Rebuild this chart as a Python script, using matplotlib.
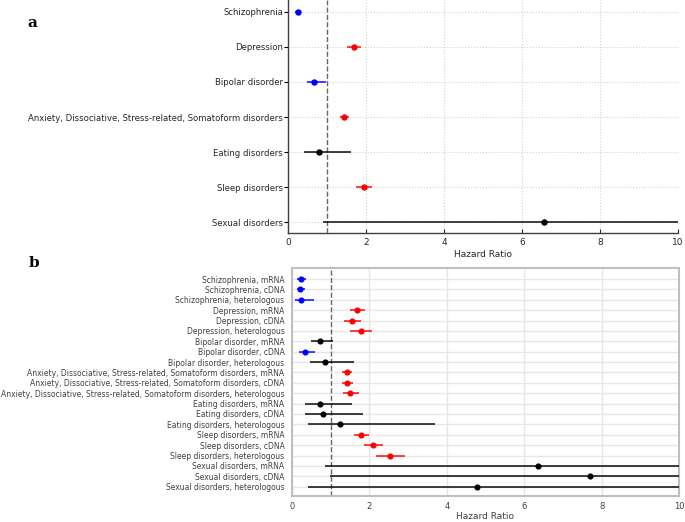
import matplotlib

matplotlib.use("Agg")
import matplotlib.pyplot as plt
import numpy as np

# Panel a: pooled hazard ratios
labels_a = [
  "Schizophrenia",
  "Depression",
  "Bipolar disorder",
  "Anxiety, Dissociative, Stress-related, Somatoform disorders",
  "Eating disorders",
  "Sleep disorders",
  "Sexual disorders",
]
hr_a = [0.25, 1.69, 0.68, 1.44, 0.80, 1.94, 6.56]
lo_a = [0.17, 1.52, 0.48, 1.33, 0.41, 1.74, 0.90]
hi_a = [0.31, 1.86, 0.97, 1.57, 1.61, 2.16, 14.0]

# Panel b: by vaccine type
diseases_b = [
  "Schizophrenia", "Depression", "Bipolar disorder",
  "Anxiety, Dissociative, Stress-related, Somatoform disorders",
  "Eating disorders", "Sleep disorders", "Sexual disorders",
]
vaccines_b = ["mRNA", "cDNA", "heterologous"]
hr_b = [0.22, 0.21, 0.22, 1.69, 1.55, 1.77, 0.73, 0.34, 0.86, 1.42, 1.42, 1.51,
        0.73, 0.79, 1.25, 1.77, 2.08, 2.53, 6.35, 7.69, 4.78]
lo_b = [0.14, 0.12, 0.08, 1.51, 1.35, 1.51, 0.50, 0.19, 0.47, 1.30, 1.28, 1.33,
        0.34, 0.34, 0.41, 1.59, 1.85, 2.18, 0.84, 0.99, 0.41]
hi_b = [0.35, 0.34, 0.57, 1.89, 1.78, 2.07, 1.07, 0.60, 1.60, 1.56, 1.58, 1.73,
        1.54, 1.83, 3.70, 1.99, 2.34, 2.92, 14.0, 14.0, 14.0]
labels_b = [f"{d}, {v}" for d in diseases_b for v in vaccines_b]


def _color(lo, hi):
  if lo > 1:
    return "red"
  if hi < 1:
    return "blue"
  return "black"


def _draw(ax, hr, lo, hi, ms, lw):
  for i, (h, l, u) in enumerate(zip(hr, lo, hi)):
    c = _color(l, u)
    ax.plot([l, u], [i, i], color=c, lw=lw, alpha=0.75, zorder=3,
            solid_capstyle="butt")
    ax.plot(h, i, "o", color=c, ms=ms, zorder=4)
  ax.axvline(1, color="0.4", ls="--", lw=1.0, zorder=2)


fig = plt.figure(figsize=(6.85, 5.22), dpi=100)

# ---- panel a
ax1 = fig.add_axes([0.4204, 0.5536, 0.5694, 0.4464])
_draw(ax1, hr_a, lo_a, hi_a, ms=3.6, lw=1.4)
ax1.set_xlim(0, 10)
ax1.set_ylim(len(labels_a) - 1 + 0.31, -0.34)
ax1.set_yticks(range(len(labels_a)))
ax1.set_yticklabels(labels_a, fontsize=6.1, color="0.15")
ax1.set_xticks([0, 2, 4, 6, 8, 10])
ax1.tick_params(axis="x", labelsize=6.5, colors="0.15", length=3, direction="in")
ax1.tick_params(axis="y", length=3, direction="out", pad=0.5)
ax1.set_xlabel("Hazard Ratio", fontsize=6.5, color="0.15", labelpad=2)
ax1.grid(True, ls=":", color="0.82", lw=0.8)
ax1.set_axisbelow(True)
for s in ("top", "right"):
  ax1.spines[s].set_visible(False)
for s in ("left", "bottom"):
  ax1.spines[s].set_color("0.25")
  ax1.spines[s].set_linewidth(1.0)

# ---- panel b
ax2 = fig.add_axes([0.4263, 0.0498, 0.5649, 0.4368])
_draw(ax2, hr_b, lo_b, hi_b, ms=3.4, lw=1.4)
ax2.set_xlim(0, 10)
ax2.set_ylim(len(labels_b) - 1 + 0.9, -1.06)
ax2.set_yticks(range(len(labels_b)))
ax2.set_yticklabels(labels_b, fontsize=5.5, color="0.25")
ax2.set_xticks([0, 2, 4, 6, 8, 10])
ax2.tick_params(axis="y", length=0, pad=5.5)
ax2.tick_params(axis="x", length=0, pad=4, labelsize=6, colors="0.25")
ax2.set_xlabel("Hazard Ratio", fontsize=6.5, color="0.25", labelpad=1)
ax2.grid(True, ls="-", color="0.9", lw=1.0)
ax2.set_axisbelow(True)
for s in ax2.spines.values():
  s.set_color("0.75")
  s.set_linewidth(1.5)

fig.text(0.047, 0.955, "a", fontsize=11, fontweight="bold", family="serif",
         ha="center", va="center")
fig.text(0.05, 0.497, "b", fontsize=11, fontweight="bold", family="serif",
         ha="center", va="center")

fig.savefig("out.png", dpi=100)
